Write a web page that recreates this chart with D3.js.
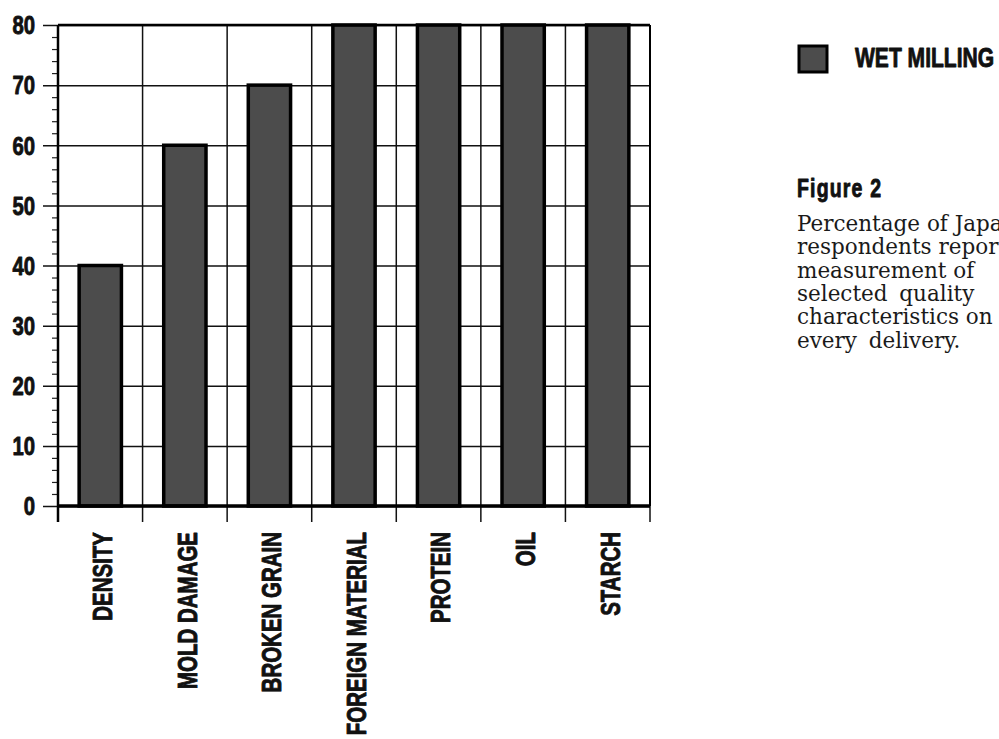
<!DOCTYPE html>
<html>
<head>
<meta charset="utf-8">
<script src="https://cdn.jsdelivr.net/npm/d3@7"></script>
<style>
  html, body { margin: 0; padding: 0; background: #fff; overflow: hidden; }
  svg { display: block; }
  .cond { font-family: "Liberation Sans", Arial, sans-serif; font-weight: bold; fill: #111; stroke: #111; stroke-width: 0.9px; stroke-linejoin: round; }
  .body { font-family: "DejaVu Serif", "Liberation Serif", serif; fill: #1a1a1a; }
</style>
</head>
<body>
<svg id="chart" width="999" height="739"></svg>
<script>
// Share of wet-milling respondents measuring each quality characteristic on every delivery
const categories = ["DENSITY", "MOLD DAMAGE", "BROKEN GRAIN", "FOREIGN MATERIAL", "PROTEIN", "OIL", "STARCH"];
const wetMilling = [40, 60, 70, 80, 80, 80, 80];
const yTicks = [0, 10, 20, 30, 40, 50, 60, 70, 80];
const legendLabel = "WET MILLING";
const figureTitle = "Figure 2";
const captionLines = [
  "Percentage of Japanese",
  "respondents reporting",
  "measurement of",
  "selected quality",
  "characteristics on",
  "every delivery."
];

const svg = d3.select("#chart");
const plot = { left: 58, right: 650, top: 25, bottom: 506 };
const barFill = "#4c4c4c";
const squeeze = 0.78;   // horizontal compression for the condensed bold lettering

const y = d3.scaleLinear().domain([0, 80]).range([plot.bottom, plot.top]);
const cells = d3.scaleBand().domain(categories).range([plot.left, plot.right]).padding(0);
const bars = d3.scaleBand().domain(categories).range([plot.left, plot.right])
  .paddingInner(0.5).paddingOuter(0.25);

// Horizontal grid lines that double as major ticks on the left
const yAxis = d3.axisLeft(y).tickValues(yTicks)
  .tickSize(-(plot.right - plot.left)).tickFormat("").tickSizeOuter(0);
const gy = svg.append("g").attr("transform", `translate(${plot.left},0)`).call(yAxis);
gy.select(".domain").remove();
gy.selectAll(".tick line").attr("x1", -15).attr("stroke", "#111").attr("stroke-width", 1.5);

// Minor ticks every 2 units
const minor = d3.range(0, 81, 2).filter(v => v % 10 !== 0);
const yMinor = d3.axisLeft(y).tickValues(minor).tickSize(6).tickFormat("").tickSizeOuter(0);
const gm = svg.append("g").attr("transform", `translate(${plot.left},0)`).call(yMinor);
gm.select(".domain").remove();
gm.selectAll(".tick line").attr("stroke", "#222").attr("stroke-width", 1.2);

// Vertical cell boundaries, extended below the base as ticks
const bounds = categories.map(c => cells(c)).concat([plot.right]);
svg.append("g").selectAll("line").data(bounds).join("line")
  .attr("x1", d => d).attr("x2", d => d)
  .attr("y1", plot.top).attr("y2", plot.bottom + 16)
  .attr("stroke", "#111").attr("stroke-width", 1.5);

// Bars
svg.append("g").selectAll("rect").data(categories).join("rect")
  .attr("x", c => bars(c))
  .attr("width", bars.bandwidth())
  .attr("y", (c, i) => y(wetMilling[i]))
  .attr("height", (c, i) => y(0) - y(wetMilling[i]))
  .attr("fill", barFill)
  .attr("stroke", "#000").attr("stroke-width", 3.5);

// Frame
svg.append("line").attr("x1", plot.left).attr("x2", plot.right)
  .attr("y1", plot.top).attr("y2", plot.top).attr("stroke", "#000").attr("stroke-width", 2.5);
svg.append("line").attr("x1", plot.left).attr("x2", plot.right)
  .attr("y1", plot.bottom).attr("y2", plot.bottom).attr("stroke", "#000").attr("stroke-width", 3.5);
svg.append("line").attr("x1", plot.left).attr("x2", plot.left)
  .attr("y1", plot.top).attr("y2", plot.bottom + 16).attr("stroke", "#000").attr("stroke-width", 2.5);
svg.append("line").attr("x1", plot.right).attr("x2", plot.right)
  .attr("y1", plot.top).attr("y2", plot.bottom).attr("stroke", "#000").attr("stroke-width", 2);

// Y tick labels
svg.append("g").selectAll("text").data(yTicks).join("text")
  .attr("class", "cond")
  .attr("transform", d => `translate(35,${y(d)}) scale(${squeeze},1)`)
  .attr("dy", "0.36em")
  .attr("text-anchor", "end")
  .attr("font-size", 26)
  .text(d => d);

// Category labels, rotated to read bottom-to-top
svg.append("g").selectAll("text").data(categories).join("text")
  .attr("class", "cond")
  .attr("font-size", 27.5)
  .attr("text-anchor", "end")
  .attr("transform", c => `translate(${cells(c) + cells.bandwidth() / 2 + 2},532) rotate(-90) scale(0.745,1)`)
  .attr("dy", "0.36em")
  .text(c => c);

// Legend
svg.append("rect").attr("x", 799).attr("y", 46).attr("width", 28).attr("height", 26)
  .attr("fill", barFill).attr("stroke", "#000").attr("stroke-width", 3);
svg.append("text").attr("class", "cond")
  .attr("transform", `translate(855,67) scale(${squeeze},1)`)
  .attr("font-size", 27).text(legendLabel);

// Caption
svg.append("text").attr("class", "cond")
  .attr("transform", `translate(797,197) scale(${squeeze},1)`)
  .attr("font-size", 25).attr("letter-spacing", 1.5).text(figureTitle);

svg.append("g").selectAll("text").data(captionLines).join("text")
  .attr("class", "body")
  .attr("x", 797)
  .attr("y", (d, i) => 231 + i * 23.3)
  .attr("font-size", 21.5)
  .attr("word-spacing", (d, i) => (i === 3 || i === 5) ? 5 : 0)
  .text(d => d);
</script>
</body>
</html>
